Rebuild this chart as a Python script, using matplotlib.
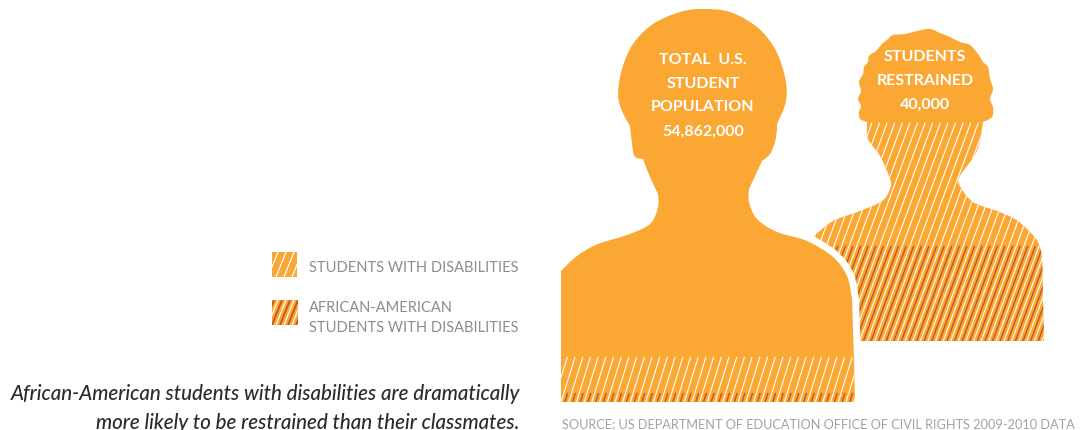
import numpy as np
import matplotlib
matplotlib.use('Agg')
import matplotlib.pyplot as plt
from matplotlib.path import Path
from matplotlib.patches import PathPatch, Rectangle

plt.rcParams['font.family'] = ['Lato', 'DejaVu Sans']

orange = '#FBA733'
dark = '#C4551F'
grey = '#8C8C8C'

# share of each silhouette's height
disability_share = [0.115, 0.70]
african_american_share = [0.023, 0.305]

big_labels = ['TOTAL  U.S.', 'STUDENT', 'POPULATION', '54,862,000']
small_labels = ['STUDENTS', 'RESTRAINED', '40,000']
legend_labels = ['STUDENTS WITH DISABILITIES', 'AFRICAN-AMERICAN\nSTUDENTS WITH DISABILITIES']
caption = ['African-American students with disabilities are dramatically',
           'more likely to be restrained than their classmates.']
source = 'SOURCE: US DEPARTMENT OF EDUCATION OFFICE OF CIVIL RIGHTS 2009-2010 DATA'

# outlines in picture pixels, each inner list is one smooth stretch
big_outline = [
    [(561, 272), (577, 257), (598, 245), (627, 236), (650, 225), (658, 208), (658, 195)],
    [(658, 195), (650, 178), (643, 160)],
    [(643, 160), (637, 159), (634, 156), (632, 145), (630, 127)],
    [(630, 127), (622, 112), (618, 95), (622, 70), (633, 45), (653, 25), (680, 13), (703, 10), (730, 13),
     (757, 28), (775, 50), (785, 78), (786, 102), (777, 125)],
    [(777, 125), (777, 130), (775, 143), (770, 155), (762, 162)],
    [(762, 162), (749, 190)],
    [(749, 190), (749, 203), (757, 220), (777, 233), (807, 242), (833, 258), (847, 277), (852, 300)],
    [(852, 300), (854, 360)],
    [(854, 360), (855, 403)],
    [(855, 403), (561, 403)],
    [(561, 403), (561, 272)],
]
small_outline = [
    [(867, 123), (860, 120), (859, 113), (861, 107), (858, 100), (861, 92), (859, 83), (863, 75), (864, 68),
     (868, 63), (869, 57), (876, 52), (882, 45), (888, 40), (893, 36), (905, 35), (917, 32), (930, 30),
     (940, 34), (950, 38), (960, 43), (970, 46), (978, 55), (983, 63), (988, 68), (990, 80), (993, 90),
     (990, 100), (993, 108), (992, 118), (983, 123)],
    [(983, 123), (977, 152), (960, 177), (960, 187), (973, 203), (997, 212), (1015, 220), (1027, 230),
     (1038, 243), (1042, 260), (1043, 300), (1044, 342)],
    [(1044, 342), (850, 342)],
    [(850, 342), (845, 270)],
    [(845, 270), (814, 237)],
    [(814, 237), (833, 222), (860, 212), (882, 202), (890, 190), (890, 180), (880, 157), (868, 140), (867, 123)],
]


def make_path(sections):
    verts = [sections[0][0]]
    codes = [Path.MOVETO]
    for sec in sections:
        pts = np.array(sec, dtype=float)
        n = len(pts)
        for i in range(n - 1):
            p0 = pts[max(i - 1, 0)]
            p1 = pts[i]
            p2 = pts[i + 1]
            p3 = pts[min(i + 2, n - 1)]
            verts += [p1 + (p2 - p0) / 6, p2 - (p3 - p1) / 6, p2]
            codes += [Path.CURVE4] * 3
    return Path(verts, codes)


def band(ax, x0, x1, y0, y1, clip, color, lw, zorder, step=7.7, shift=0.0, lean=0.31):
    # slanted stripes over one horizontal band of the clip shape
    for x in np.arange(x0 - 100 + shift, x1 + 20, step):
        line, = ax.plot([x, x + lean * (y1 - y0)], [y1, y0], color=color, lw=lw,
                        solid_capstyle='butt', zorder=zorder)
        line.set_clip_path(clip)


fig = plt.figure(figsize=(10.81, 4.31), dpi=100)
ax = fig.add_axes([0, 0, 1, 1])
ax.set_xlim(0, 1081)
ax.set_ylim(431, 0)
ax.axis('off')

# back figure
small = PathPatch(make_path(small_outline), fc=orange, ec='none', zorder=1)
ax.add_patch(small)
small_top, small_bottom = 30, 342
y_white = small_bottom - disability_share[1] * (small_bottom - small_top)
y_dark = small_bottom - african_american_share[1] * (small_bottom - small_top)
band(ax, 800, 1050, y_white, small_bottom, small, 'white', 0.8, 3, step=7.6, lean=0.37)
band(ax, 800, 1050, y_dark, small_bottom, small, dark, 1.0, 3, step=7.6, lean=0.37, shift=3.8)

# front figure with white halo
big_path = make_path(big_outline)
ax.add_patch(PathPatch(big_path, fc='white', ec='white', lw=10, zorder=5))
big = PathPatch(big_path, fc=orange, ec='none', zorder=6)
ax.add_patch(big)
big_top, big_bottom = 10, 403
y_white = big_bottom - disability_share[0] * (big_bottom - big_top)
y_dark = big_bottom - african_american_share[0] * (big_bottom - big_top)
band(ax, 561, 855, y_white, big_bottom, big, 'white', 0.8, 7)
band(ax, 561, 855, y_dark, big_bottom, big, dark, 1.0, 7, shift=3.85)

for label, y in zip(big_labels, [60.5, 84, 107.5, 131.5]):
    ax.text(703, y, label, color='white', fontsize=11.5, fontweight='bold', ha='center', va='center', zorder=8)
for label, y in zip(small_labels, [57, 81, 105]):
    ax.text(925, y, label, color='white', fontsize=11.5, fontweight='bold', ha='center', va='center', zorder=8)

# legend
swatch1 = Rectangle((272, 253), 25, 25, fc=orange, ec='none', zorder=2)
ax.add_patch(swatch1)
band(ax, 272, 297, 253, 278, swatch1, 'white', 0.9, 3, step=8, lean=0.4)
swatch2 = Rectangle((272, 301), 26, 25, fc=orange, ec='none', zorder=2)
ax.add_patch(swatch2)
band(ax, 272, 298, 301, 326, swatch2, 'white', 0.9, 3, step=8, lean=0.4)
band(ax, 272, 298, 301, 326, swatch2, dark, 1.3, 3, step=8, lean=0.4, shift=4)

ax.text(309, 268.5, legend_labels[0], color=grey, fontsize=10.55, ha='left', va='center')
ax.text(309, 318, legend_labels[1], color=grey, fontsize=10.55, ha='left', va='center', linespacing=1.55)

ax.text(520, 394, caption[0], color='#2B2B2B', fontsize=14.8, style='italic', fontweight='medium', ha='right', va='center')
ax.text(520, 423, caption[1], color='#2B2B2B', fontsize=14.8, style='italic', fontweight='medium', ha='right', va='center')
ax.text(562, 425.5, source, color='#A3A3A3', fontsize=9.22, ha='left', va='center')

fig.savefig('out.png', dpi=100)
